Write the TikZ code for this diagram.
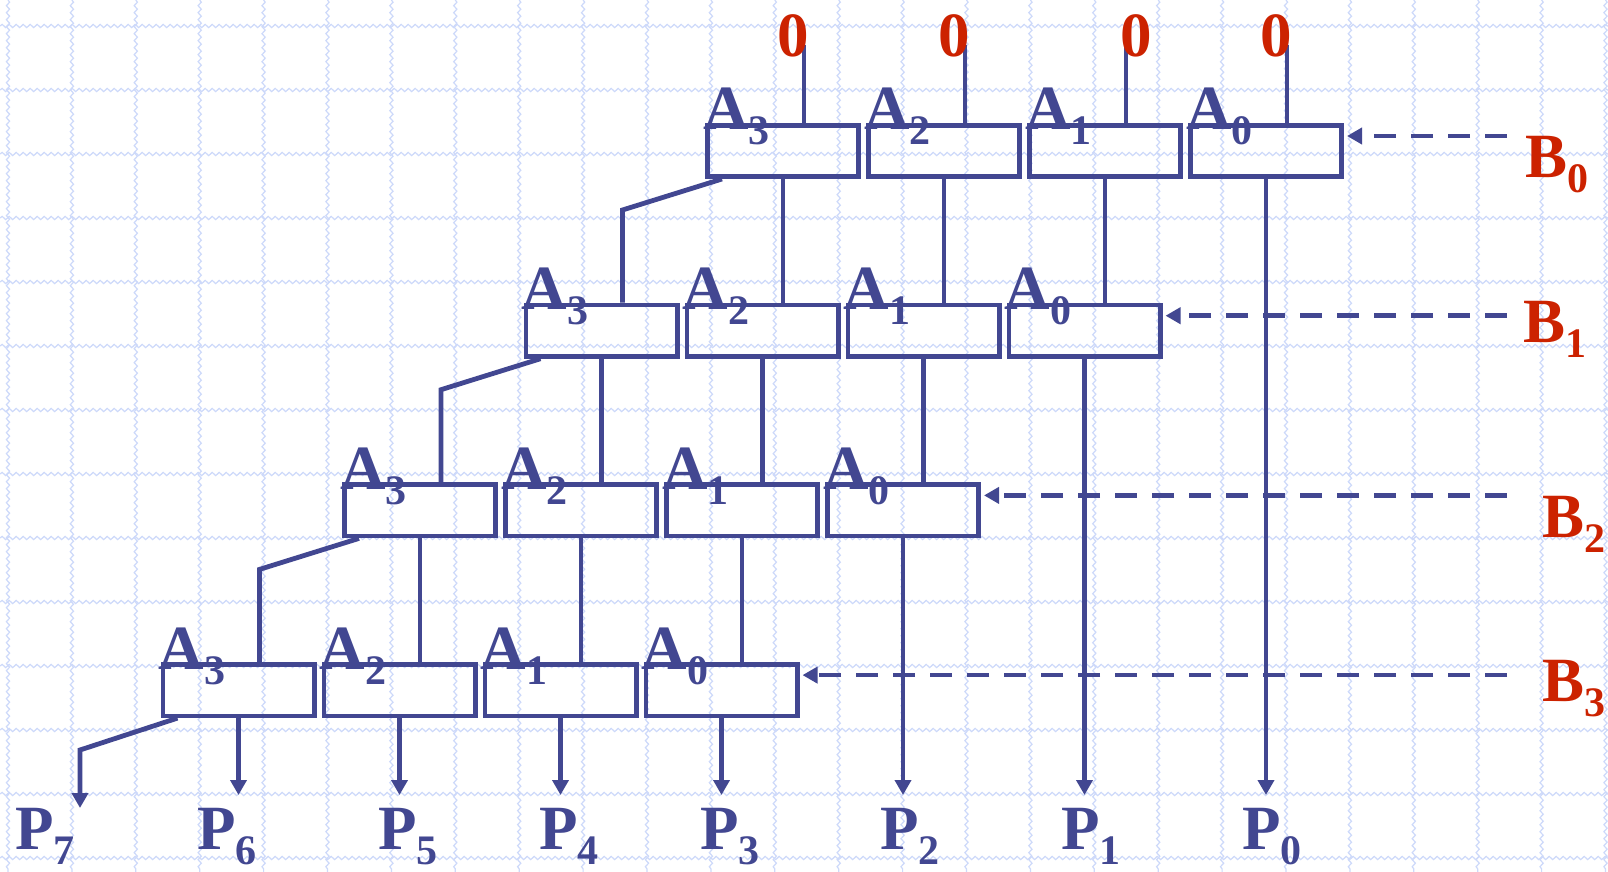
\documentclass[tikz,border=0pt]{standalone}
\usepackage{fontspec}
\setmainfont{Liberation Serif}
\usepackage{tikz}
\usetikzlibrary{arrows.meta, positioning, calc, decorations.pathmorphing}

\definecolor{wireblue}{RGB}{66,71,145}
\definecolor{bitred}{RGB}{204,34,0}
\definecolor{gridblue}{RGB}{205,217,250}
\newcommand{\lowidx}[1]{\raisebox{-7.5pt}{\fontsize{21pt}{21pt}\selectfont #1}}

\begin{document}
\begin{tikzpicture}[
    x=0.5pt, y=-0.5pt,
    cell/.style={draw=wireblue, line width=2.3pt, minimum width=75.7pt, minimum height=25.7pt, inner sep=0pt},
    wire/.style={draw=wireblue, line width=2.4pt},
    arrow/.style={wire, -{Triangle[length=7.5pt, width=8pt]}},
    dasharrow/.style={arrow, line width=2.3pt, dash pattern=on 11pt off 7.5pt, shorten >=1.5pt},
    lbl/.style={inner sep=0pt, font=\fontsize{31.5pt}{31.5pt}\selectfont\bfseries},
    alabel/.style={lbl, text=wireblue, anchor=base west},
    plabel/.style={lbl, text=wireblue, anchor=base west},
    blabel/.style={lbl, text=bitred, anchor=base west},
    zero/.style={lbl, text=bitred, anchor=base}
]
\useasboundingbox (0,0) rectangle (1608,872);
\fill[white] (0,0) rectangle (1608,872);

% Grid paper
\begin{scope}[gridblue, line width=0.6pt, decoration={snake, segment length=3.5pt, amplitude=0.8pt}]
\foreach \i in {0,...,25} \draw[decorate] ({8+63.9*\i},0) -- ({8+63.9*\i},872);
\foreach \j in {0,...,13} \draw[decorate] (0,{26+64*\j}) -- (1608,{26+64*\j});
\end{scope}

% Adder cells, row r is multiplied by B_r
\foreach \r in {0,...,3} {
  \foreach \c in {0,...,3} {
    \node[cell] (b\r\c) at ({783-181.5*\r+161*\c}, {151+179.7*\r}) {};
    \coordinate (in\r\c) at ([xshift=10.5pt]b\r\c.north);
  }
}

% Zero inputs of the first row
\foreach \c in {0,...,3} \draw[wire] (in0\c) -- ++(0,-78);
\foreach \c/\x in {0/793, 1/954, 2/1136, 3/1276} \node[zero] (z\c) at (\x,57) {0};

% Sums passed down one place to the left
\foreach \r [evaluate=\r as \n using int(\r+1)] in {0,1,2} {
  \foreach \c [evaluate=\c as \d using int(\c+1)] in {0,1,2}
    \draw[wire] (b\r\c.south) -- (b\r\c.south |- in\n\d);
  % Carry out
  \coordinate (kink\r) at ([yshift=-15.5pt]b\r0.south);
  \draw[wire] ([xshift=-30.5pt]b\r0.south) -- (in\n0 |- kink\r) -- (in\n0);
}

% Product bits
\coordinate (tipline) at (0,795);
\coordinate (c7) at (80,750);
\draw[arrow] ([xshift=-30.5pt]b30.south) -- (c7) -- ++(0,58);
\foreach \c in {0,...,3} \draw[arrow] (b3\c.south) -- (b3\c.south |- tipline);
\foreach \r in {0,1,2} \draw[arrow] (b\r3.south) -- (b\r3.south |- tipline);

% Multiplier bits
\foreach \r/\x/\y in {0/1525/177, 1/1523/342, 2/1542/537, 3/1542/701} {
  \coordinate (bs\r) at (1507, {136+179.7*\r});
  \draw[dasharrow] (bs\r) -- (bs\r -| b\r3.east);
  \node[blabel] (bl\r) at (\x,\y) {B\lowidx{\r}};
}

% Labels
\foreach \r in {0,...,3} {
  \foreach \c [evaluate=\c as \i using int(3-\c)] in {0,...,3}
    \node[alabel] (a\r\c) at ([xshift=-1pt, yshift=-3.5pt]b\r\c.north west) {A\lowidx{\i}};
}
\foreach \k/\x in {7/15, 6/197, 5/378, 4/539, 3/700, 2/880, 1/1061, 0/1242}
  \node[plabel] (p\k) at (\x,849) {P\lowidx{\k}};

\end{tikzpicture}
\end{document}
